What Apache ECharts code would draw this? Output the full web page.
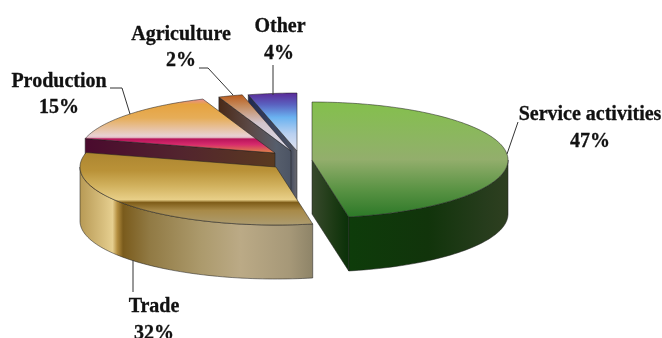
<!DOCTYPE html>
<html><head><meta charset="utf-8">
<script src="https://cdn.jsdelivr.net/npm/echarts@6/dist/echarts.min.js"></script>
<style>html,body{margin:0;padding:0;background:#fff}#c{width:662px;height:338px}</style></head>
<body><div id="c"></div>
<script>
const categories = ['Service activities','Trade','Production','Agriculture','Other'];
const shares = [47,32,15,2,4];

const RX=196, RY=58, DEPTH=54;
const centers=[[312,160],[276,167],[275,153],[291,151],[297,151]];
const tops=[
 [[0,'#84c04c'],[.3,'#8cb660'],[.5,'#93ae6c'],[.76,'#5a9344'],[.93,'#3a8030'],[1,'#2c7a28']],
 [[0,'#ad8630'],[.25,'#ba9238'],[.45,'#d0b05c'],[.65,'#e8cf88'],[.69,'#7e5c18'],[.8,'#a88a48'],[1,'#ad9c70']],
 [[0,'#ea8f94'],[.1,'#e6a33f'],[.35,'#e6ad58'],[.68,'#e8d0d2'],[.71,'#e4c0c8'],[.74,'#b8145a'],[.84,'#d62a6c'],[1,'#e08a48']],
 [[0,'#bb5c1c'],[.2,'#c48a5c'],[.5,'#d2c4cc'],[1,'#dcdcec']],
 [[0,'#5a2a98'],[.2,'#5a62c0'],[.42,'#6ab2f0'],[.7,'#b8d0f0'],[1,'#e4e4f0']]
];
const sides=[
 [[0,'#0e3c0a'],[.5,'#11340b'],[.85,'#263c1c'],[1,'#2e3f20']],
 [[0,'#b89a55'],[.1,'#d8bf7e'],[.14,'#e6cf90'],[.16,'#b58f40'],[.185,'#7a5b1c'],[.3,'#917a44'],[.52,'#ac9a6c'],[.69,'#bbaa86'],[.9,'#a69878'],[1,'#8e8468']],
 [[0,'#4a0a2e'],[.5,'#52242e'],[1,'#5a3a20']],
 [[0,'#4a2a18'],[.45,'#5c4a48'],[.8,'#565e6c'],[1,'#4c5464']],
 [[0,'#1e2850'],[.5,'#3a4460'],[.9,'#4c5262'],[1,'#6a6a70']]
];
const faces=[
 [[0,'#38492c'],[.6,'#1c3a14'],[1,'#0a3008']],null,null,null,null
];
const labelPos=[[590,115,590,142],[154,307,154,334],[59,82,59,108],[181,35,181,61],[280,27,279,54]];
const leaders=[
 [[507,154],[518,122]],
 [[133,260],[133,292]],
 [[130,114],[122,88],[110,88]],
 [[233,95],[208,68],[199,68]],
 [[273,95],[273,65]]
];

const total=shares.reduce((a,b)=>a+b,0);
let run=0;
const spans=shares.map(v=>{const s=run/total*360;run+=v;return [s,run/total*360];});
const rad=d=>d*Math.PI/180;
const pt=(c,a,dy)=>[c[0]+RX*Math.sin(rad(a)),c[1]-RY*Math.cos(rad(a))+(dy||0)];
function arc(c,a,b,dy){const n=Math.max(2,Math.ceil(Math.abs(b-a)/1.5));const p=[];for(let i=0;i<=n;i++)p.push(pt(c,a+(b-a)*i/n,dy));return p;}
const grad=(x,y,x2,y2,st)=>({type:'linear',global:true,x,y,x2,y2,colorStops:st.map(s=>({offset:s[0],color:s[1]}))});
const edge={stroke:'rgba(30,30,30,.75)',lineWidth:.7};
const poly=(points,fill,z2)=>({type:'polygon',z2,shape:{points},style:Object.assign({fill},edge)});
function ext(pts){const xs=pts.map(p=>p[0]),ys=pts.map(p=>p[1]);return [Math.min(...xs),Math.min(...ys),Math.max(...xs),Math.max(...ys)];}

function renderItem(params,api){
  const i=params.dataIndex, c=centers[i], a=spans[i][0], b=spans[i][1];
  const z=(i===0?50:(5-i)*10), ch=[];
  const topPts=[c].concat(arc(c,a,b));
  const e=ext(topPts);
  // outer wall
  const lo=Math.max(a,90), hi=Math.min(b,270);
  if(hi>lo){
    const up=arc(c,lo,hi), dn=arc(c,hi,lo,DEPTH);
    const ex=ext(up);
    ch.push(poly(up.concat(dn),grad(ex[0],0,ex[2],0,sides[i]),z));
  }
  // cut walls facing the viewer
  const wall=(ang,st)=>{
    const p=pt(c,ang), q=[p,c,[c[0],c[1]+DEPTH],[p[0],p[1]+DEPTH]];
    ch.push(poly(q,grad(Math.min(p[0],c[0]),0,Math.max(p[0],c[0]),0,st),z+1));
  };
  if(a>180&&a<360) wall(a,sides[i]);
  if(b>0&&b<180) wall(b,faces[i]||sides[i]);
  ch.push(poly(topPts,grad(0,e[1],0,e[3],tops[i]),z+2));
  // leader
  ch.push({type:'polyline',z2:60,shape:{points:leaders[i]},style:{fill:null,stroke:'#333',lineWidth:1}});
  // label
  const L=labelPos[i], font='bold 20px "Liberation Serif","Times New Roman",serif';
  [[categories[i],L[0],L[1]],[api.value(0)+'%',L[2],L[3]]].forEach(t=>{
    ch.push({type:'text',z2:61,x:t[1],y:t[2],style:{text:t[0],font,fill:'#111',stroke:'#111',lineWidth:.3,align:'center',verticalAlign:'middle'}});
  });
  return {type:'group',children:ch};
}

const chart=echarts.init(document.getElementById('c'),null,{renderer:'canvas'});
chart.setOption({
  animation:false,
  backgroundColor:'#fff',
  series:[{type:'custom',coordinateSystem:'none',renderItem,silent:true,
    data:categories.map((n,i)=>({name:n,value:[shares[i]]}))}]
});
</script></body></html>
